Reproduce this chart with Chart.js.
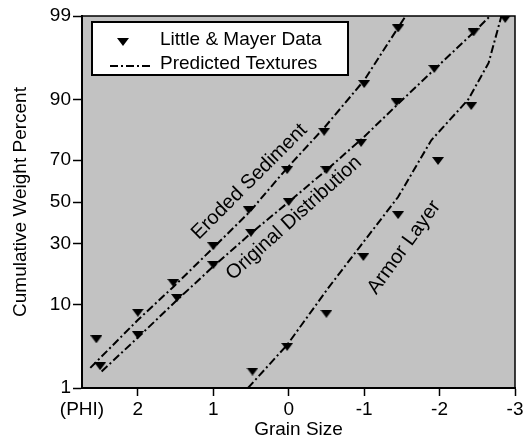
<!DOCTYPE html>
<html>
<head>
<meta charset="utf-8">
<script src="https://cdn.jsdelivr.net/npm/chart.js@4/dist/chart.umd.min.js"></script>
<style>
html, body { margin: 0; padding: 0; background: #fff; }
</style>
</head>
<body>
<canvas id="grainChart" width="523" height="441"></canvas>
<script>
// Little & Mayer sieve data (grain size in phi, cumulative weight percent)
const erodedX = [2.55, 2, 1.53, 1, 0.53, 0.02, -0.47, -1, -1.45];
const erodedPct = [4.3, 8.3, 15.6, 29, 46, 65.5, 81, 93, 98.5];
const originalX = [2.5, 2, 1.48, 1, 0.5, 0, -0.5, -0.96, -1.43, -1.93, -2.45];
const originalPct = [2, 4.8, 11.5, 21.5, 35, 50, 65.5, 77, 89.4, 95.2, 98.3];
const armorX = [0.48, 0.02, -0.5, -0.99, -1.45, -1.98, -2.42, -2.87];
const armorPct = [1.7, 3.5, 8.1, 24.6, 43.5, 69.6, 88.5, 98.9];

// predicted textures (dash-dot curves)
const predErodedX = [2.63, 2.0, 1.53, 1.03, 0.52, 0.02, -0.48, -1.0, -1.55];
const predErodedPct = [1.9, 7.0, 14.4, 27.4, 45, 66.5, 82.6, 93.6, 99];
const predOriginalX = [2.48, 2.0, 1.48, 1.0, 0.51, 0, -0.5, -0.99, -1.45, -1.95, -2.45, -2.67];
const predOriginalPct = [1.7, 4.5, 11, 21, 34.5, 50, 65.5, 79, 89, 95.3, 98.3, 99];
const predArmorX = [0.54, 0.02, -0.52, -0.96, -1.45, -1.89, -2.38, -2.65, -2.82];
const predArmorPct = [1.0, 3.7, 14, 29.5, 52.5, 78, 90, 95.9, 99];

// axes
const xTickValues = [2.74, 2, 1, 0, -1, -2, -3];
const xTickLabels = ['(PHI)', '2', '1', '0', '-1', '-2', '-3'];
const yTickPct = [1, 10, 30, 50, 70, 90, 99];
const yTickLabels = ['1', '10', '30', '50', '70', '90', '99'];

const curveNames = ['Eroded Sediment', 'Original Distribution', 'Armor Layer'];
const legendNames = ['Little & Mayer Data', 'Predicted Textures'];

const FONT = '"Liberation Sans", Arial, Helvetica, sans-serif';
const DASH = [8, 3, 2, 3];

// inverse normal cdf (Acklam) for the probability axis
function probit(p) {
    const a = [-39.69683028665376, 220.9460984245205, -275.9285104469687, 138.3577518672690, -30.66479806614716, 2.506628277459239];
    const b = [-54.47609879822406, 161.5858368580409, -155.6989798598866, 66.80131188771972, -13.28068155288572];
    const c = [-0.007784894002430293, -0.3223964580411365, -2.400758277161838, -2.549732539343734, 4.374664141464968, 2.938163982698783];
    const d = [0.007784695709041462, 0.3224671290700398, 2.445134137142996, 3.754408661907416];
    const plow = 0.02425;
    let q, r;
    if (p < plow) {
        q = Math.sqrt(-2 * Math.log(p));
        return (((((c[0]*q+c[1])*q+c[2])*q+c[3])*q+c[4])*q+c[5]) / ((((d[0]*q+d[1])*q+d[2])*q+d[3])*q+1);
    } else if (p <= 1 - plow) {
        q = p - 0.5; r = q * q;
        return (((((a[0]*r+a[1])*r+a[2])*r+a[3])*r+a[4])*r+a[5])*q / (((((b[0]*r+b[1])*r+b[2])*r+b[3])*r+b[4])*r+1);
    }
    q = Math.sqrt(-2 * Math.log(1 - p));
    return -(((((c[0]*q+c[1])*q+c[2])*q+c[3])*q+c[4])*q+c[5]) / ((((d[0]*q+d[1])*q+d[2])*q+d[3])*q+1);
}
function toZ(pct) { return probit(pct / 100); }
function points(xs, pcts) { return xs.map((x, i) => ({x: x, y: toZ(pcts[i])})); }

// flat down-pointing triangle used as marker
function makeTriangle(w, h) {
    const c = document.createElement('canvas');
    c.width = w; c.height = h;
    const g = c.getContext('2d');
    g.fillStyle = '#000';
    g.beginPath();
    g.moveTo(0, 0); g.lineTo(w, 0); g.lineTo(w / 2, h);
    g.closePath();
    g.fill();
    return c;
}
const triangle = makeTriangle(12, 8);

function markerSet(label, xs, pcts) {
    return {
        label: label, data: points(xs, pcts), showLine: false,
        pointStyle: triangle, pointRadius: 6, borderColor: '#000', backgroundColor: '#000'
    };
}
function curveSet(label, xs, pcts) {
    return {
        label: label, data: points(xs, pcts), showLine: true, pointRadius: 0,
        borderColor: '#000', borderWidth: 2, borderDash: DASH, tension: 0, fill: false
    };
}

// curve names written along the lines
const curveNotes = [
    {x: 0.52, pct: 60, angle: -45},
    {x: -0.07, pct: 42, angle: -42},
    {x: -1.53, pct: 28.5, angle: -54}
];

const plotDecor = {
    id: 'plotDecor',
    beforeDraw(chart) {
        const a = chart.chartArea, ctx = chart.ctx;
        ctx.save();
        ctx.fillStyle = '#c2c2c2';
        ctx.fillRect(a.left, a.top, a.right - a.left, a.bottom - a.top);
        ctx.restore();
    },
    afterDatasetsDraw(chart) {
        const a = chart.chartArea, ctx = chart.ctx;
        const xs = chart.scales.x, ys = chart.scales.y;
        ctx.save();
        // frame
        ctx.strokeStyle = '#000';
        ctx.lineWidth = 1.5;
        ctx.strokeRect(a.left, a.top, a.right - a.left, a.bottom - a.top);

        // curve names
        ctx.fillStyle = '#000';
        ctx.font = '20px ' + FONT;
        ctx.textAlign = 'center';
        ctx.textBaseline = 'middle';
        curveNotes.forEach(function(n, i) {
            ctx.save();
            ctx.translate(xs.getPixelForValue(n.x), ys.getPixelForValue(toZ(n.pct)));
            ctx.rotate(n.angle * Math.PI / 180);
            ctx.fillText(curveNames[i], 0, 0);
            ctx.restore();
        });

        // legend box
        const bx = 92, by = 22, bw = 256, bh = 53;
        ctx.fillStyle = '#fff';
        ctx.fillRect(bx, by, bw, bh);
        ctx.lineWidth = 2;
        ctx.strokeRect(bx, by, bw, bh);
        ctx.fillStyle = '#000';
        ctx.drawImage(triangle, 117, 38);
        ctx.beginPath();
        ctx.setLineDash(DASH);
        ctx.moveTo(110, 66);
        ctx.lineTo(153, 66);
        ctx.stroke();
        ctx.setLineDash([]);
        ctx.font = '19px ' + FONT;
        ctx.textAlign = 'left';
        ctx.fillText(legendNames[0], 160, 40);
        ctx.fillText(legendNames[1], 160, 64);
        ctx.restore();
    }
};

const ctx = document.getElementById('grainChart').getContext('2d');
const chart = new Chart(ctx, {
    type: 'scatter',
    data: {
        datasets: [
            markerSet('Eroded Sediment data', erodedX, erodedPct),
            markerSet('Original Distribution data', originalX, originalPct),
            markerSet('Armor Layer data', armorX, armorPct),
            curveSet('Eroded Sediment predicted', predErodedX, predErodedPct),
            curveSet('Original Distribution predicted', predOriginalX, predOriginalPct),
            curveSet('Armor Layer predicted', predArmorX, predArmorPct)
        ]
    },
    options: {
        responsive: false,
        animation: false,
        devicePixelRatio: 1,
        layout: { padding: { top: 16, right: 8, left: 0, bottom: 0 } },
        plugins: { legend: { display: false }, tooltip: { enabled: false } },
        scales: {
            x: {
                type: 'linear', reverse: true,
                min: xTickValues[xTickValues.length - 1], max: xTickValues[0],
                afterBuildTicks(scale) { scale.ticks = xTickValues.map(v => ({value: v})); },
                afterFit(scale) { scale.height = 53; scale.paddingLeft = 0; scale.paddingRight = 0; },
                grid: {
                    drawOnChartArea: false, tickLength: 8, tickWidth: 1.5,
                    tickColor: (c) => c.index === 0 ? 'rgba(0,0,0,0)' : '#000'
                },
                border: { display: true, color: '#000', width: 2 },
                ticks: {
                    autoSkip: false, maxRotation: 0, color: '#000', padding: 2,
                    font: { family: FONT, size: 19 },
                    callback: (v, i) => xTickLabels[i]
                },
                title: {
                    display: true, text: 'Grain Size', color: '#000',
                    font: { family: FONT, size: 19 }, padding: { top: 0, bottom: 0 }
                }
            },
            y: {
                type: 'linear',
                min: toZ(yTickPct[0]), max: toZ(yTickPct[yTickPct.length - 1]),
                afterBuildTicks(scale) { scale.ticks = yTickPct.map(p => ({value: toZ(p)})); },
                afterFit(scale) { scale.width = 82; scale.paddingTop = 0; scale.paddingBottom = 0; },
                grid: { drawOnChartArea: false, tickLength: 9, tickWidth: 1.5, tickColor: '#000' },
                border: { display: true, color: '#000', width: 2 },
                ticks: {
                    autoSkip: false, color: '#000', padding: 2,
                    font: { family: FONT, size: 19 },
                    callback: (v, i) => yTickLabels[i]
                },
                title: {
                    display: true, text: 'Cumulative Weight Percent', color: '#000',
                    font: { family: FONT, size: 19 }, padding: { top: 9, bottom: 0 }
                }
            }
        }
    },
    plugins: [plotDecor]
});
</script>
</body>
</html>
